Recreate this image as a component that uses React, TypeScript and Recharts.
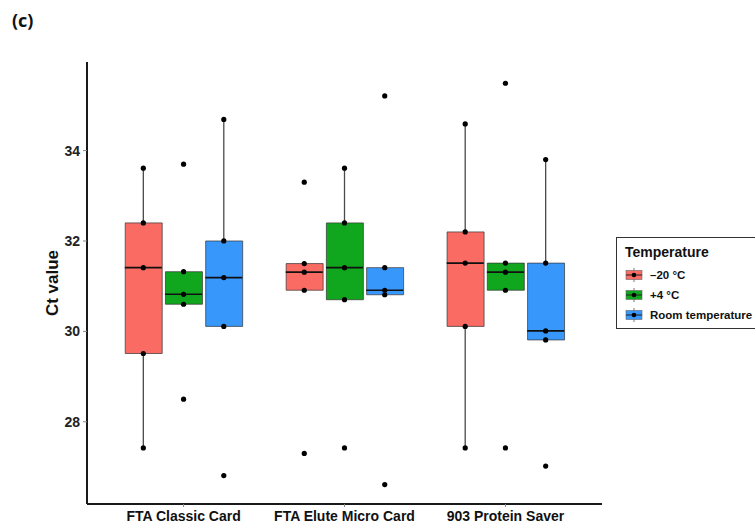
import {
  ComposedChart,
  Bar,
  Cell,
  Scatter,
  ErrorBar,
  XAxis,
  YAxis,
} from "recharts";

// categories and legend entries
const groups = ["FTA Classic Card", "FTA Elute Micro Card", "903 Protein Saver"];
const temps = ["\u201320 \u00b0C", "+4 \u00b0C", "Room temperature"];
const tempColors = ["#F96B63", "#10A71E", "#3797FA"];
const yTicks = [28, 30, 32, 34];

// raw Ct values per card type (one list of 5 replicates per card)
const ctMinus20 = [
  [27.42, 29.51, 31.41, 32.4, 33.61],
  [27.3, 30.91, 31.31, 31.5, 33.3],
  [27.42, 30.11, 31.51, 32.2, 34.59],
];
const ctPlus4 = [
  [28.5, 30.6, 30.82, 31.32, 33.7],
  [27.42, 30.7, 31.41, 32.4, 33.61],
  [27.42, 30.91, 31.31, 31.51, 35.49],
];
const ctRoom = [
  [26.81, 30.11, 31.19, 32.0, 34.69],
  [26.61, 30.81, 30.91, 31.41, 35.21],
  [27.02, 29.81, 30.01, 31.51, 33.8],
];

const BOX_W = 37;

function quantile(sorted: number[], p: number) {
  const h = (sorted.length - 1) * p;
  const lo = Math.floor(h);
  const hi = Math.ceil(h);
  return sorted[lo] + (sorted[hi] - sorted[lo]) * (h - lo);
}

const series = [ctMinus20, ctPlus4, ctRoom];

const boxRows: any[] = [];
const lowerWhiskers: any[] = [];
const upperWhiskers: any[] = [];
const pointRows: any[] = [];
groups.forEach((_, gi) => {
  series.forEach((s, ti) => {
    const vals = [...s[gi]].sort((a, b) => a - b);
    const q1 = quantile(vals, 0.25);
    const med = quantile(vals, 0.5);
    const q3 = quantile(vals, 0.75);
    const iqr = q3 - q1;
    const inside = vals.filter((v) => v >= q1 - 1.5 * iqr && v <= q3 + 1.5 * iqr);
    const lo = Math.min(...inside);
    const hi = Math.max(...inside);
    const x = gi + 1 + (ti - 1) * 0.25;
    boxRows.push({ x, y: med, box: [q1, q3], color: tempColors[ti] });
    // whiskers run from the box edges out to the furthest non-outlier
    lowerWhiskers.push({ x, y: q1, err: [q1 - lo, 0] });
    upperWhiskers.push({ x, y: q3, err: [0, hi - q3] });
    vals.forEach((v) => pointRows.push({ x, y: v }));
  });
});

const MedianShape = (props: any) => (
  <line
    x1={props.cx - BOX_W / 2}
    x2={props.cx + BOX_W / 2}
    y1={props.cy}
    y2={props.cy}
    stroke="#111"
    strokeWidth={1.6}
  />
);

const DotShape = (props: any) => <circle cx={props.cx} cy={props.cy} r={2.6} fill="#000" />;

const NoShape = () => <g />;

const CtLabel = (props: any) => {
  const vb = props.viewBox || { x: 27, y: 62, width: 60, height: 442 };
  const x = vb.x + 25;
  const y = vb.y + vb.height / 2;
  return (
    <text
      x={x}
      y={y}
      transform={`rotate(-90, ${x}, ${y})`}
      textAnchor="middle"
      dominantBaseline="central"
      fontSize={17}
      fontWeight="bold"
      fill="#111"
    >
      Ct value
    </text>
  );
};

function LegendKey({ color }: { color: string }) {
  return (
    <svg width={18} height={14} style={{ display: "block" }}>
      <line x1={9} x2={9} y1={0} y2={14} stroke="#777" strokeWidth={1} />
      <rect x={1} y={2.5} width={16} height={9} fill={color} stroke="#666" strokeWidth={0.6} />
      <line x1={1} x2={17} y1={7} y2={7} stroke="#222" strokeWidth={1} />
      <circle cx={9} cy={7} r={2.3} fill="#000" />
    </svg>
  );
}

export default function App() {
  return (
    <div
      style={{
        position: "absolute",
        left: 0,
        top: 0,
        width: 755,
        height: 529,
        background: "#fff",
        overflow: "hidden",
        fontFamily: "'Liberation Sans', Arial, sans-serif",
      }}
    >
      <div
        style={{
          position: "absolute",
          left: 12,
          top: 8,
          fontSize: 18,
          fontWeight: "bold",
          fontFamily: "'Open Sans', sans-serif",
          color: "#111",
        }}
      >
        (c)
      </div>
      <ComposedChart
        width={755}
        height={529}
        data={boxRows}
        margin={{ top: 62, right: 153, bottom: 0, left: 27 }}
      >
        <XAxis
          type="number"
          dataKey="x"
          domain={[0.4, 3.6]}
          ticks={[1, 2, 3]}
          allowDataOverflow
          height={25}
          tickFormatter={(v: number) => groups[v - 1]}
          axisLine={{ stroke: "#1a1a1a", strokeWidth: 2 }}
          tickLine={{ stroke: "#888" }}
          tickSize={3}
          tickMargin={4}
          tick={{ fontSize: 14, fontWeight: "bold", fill: "#111" }}
        />
        <YAxis
          type="number"
          dataKey="y"
          domain={[26.18, 35.96]}
          ticks={yTicks}
          allowDataOverflow
          width={60}
          axisLine={{ stroke: "#1a1a1a", strokeWidth: 2 }}
          tickLine={{ stroke: "#888" }}
          tickSize={4}
          tickMargin={3}
          tick={{ fontSize: 14, fontWeight: "bold", fill: "#222" }}
          label={CtLabel}
        />
        <Scatter data={lowerWhiskers} shape={NoShape} isAnimationActive={false}>
          <ErrorBar dataKey="err" direction="y" width={0} stroke="#4a4a4a" strokeWidth={1.3} />
        </Scatter>
        <Scatter data={upperWhiskers} shape={NoShape} isAnimationActive={false}>
          <ErrorBar dataKey="err" direction="y" width={0} stroke="#4a4a4a" strokeWidth={1.3} />
        </Scatter>
        <Bar dataKey="box" barSize={BOX_W} stroke="#333" strokeWidth={0.7} isAnimationActive={false}>
          {boxRows.map((r, i) => (
            <Cell key={i} fill={r.color} />
          ))}
        </Bar>
        <Scatter data={boxRows} shape={MedianShape} isAnimationActive={false} />
        <Scatter data={pointRows} shape={DotShape} isAnimationActive={false} />
      </ComposedChart>
      <div
        style={{
          position: "absolute",
          left: 616,
          top: 237,
          width: 150,
          height: 92,
          border: "1px solid #333",
          boxSizing: "border-box",
          padding: "6px 0 0 8px",
          color: "#111",
        }}
      >
        <div style={{ fontSize: 14, fontWeight: "bold", marginBottom: 5 }}>Temperature</div>
        {temps.map((t, i) => (
          <div
            key={t}
            style={{ display: "flex", alignItems: "center", height: 20, fontSize: 11.5, fontWeight: "bold" }}
          >
            <LegendKey color={tempColors[i]} />
            <span style={{ marginLeft: 7 }}>{t}</span>
          </div>
        ))}
      </div>
    </div>
  );
}
